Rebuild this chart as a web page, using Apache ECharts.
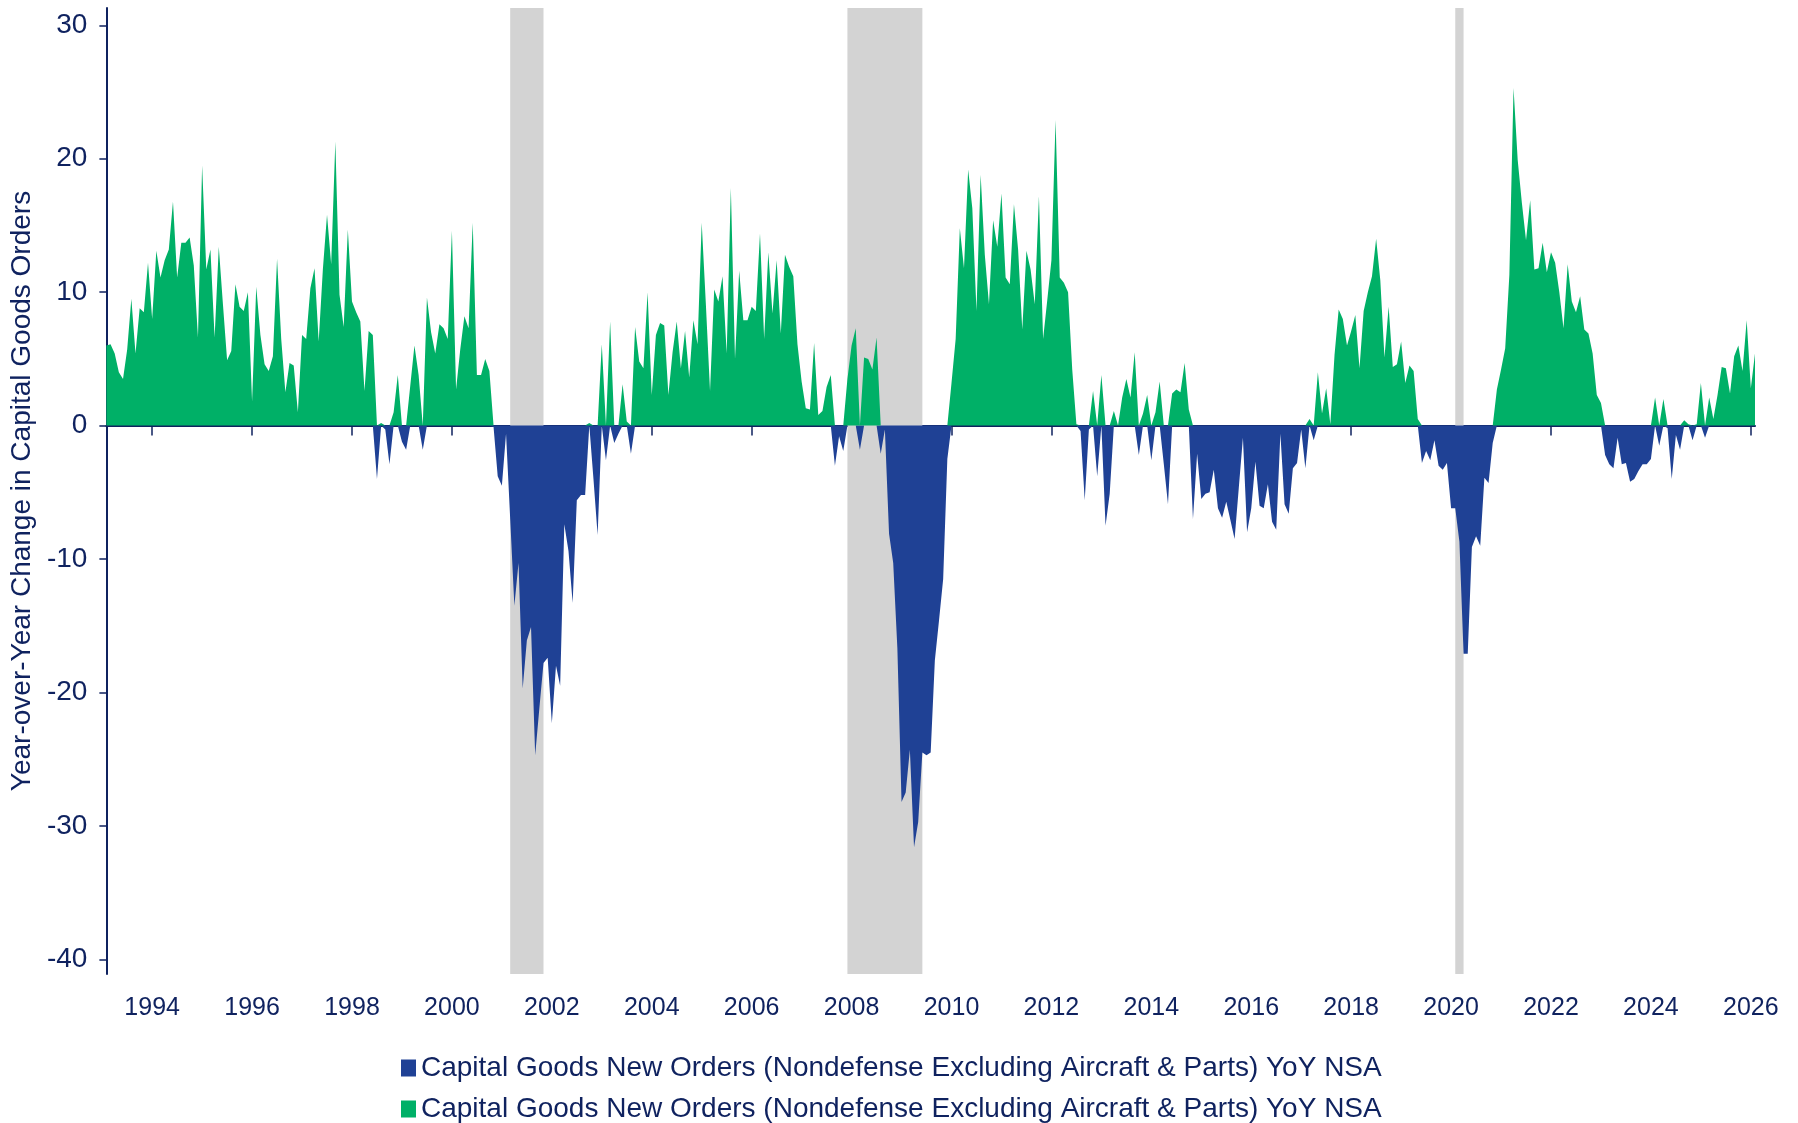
<!DOCTYPE html>
<html>
<head>
<meta charset="utf-8">
<script src="https://cdn.jsdelivr.net/npm/echarts@6/dist/echarts.min.js"></script>
<style>
  html, body { margin: 0; padding: 0; background: #fff; }
  #chart { width: 1798px; height: 1123px; }
</style>
</head>
<body>
<div id="chart"></div>
<script>
// first observation is Feb 1993, one value per month
const startYear = 1993
const startMonth = 2

// YoY % change, one row per calendar year
const yoyValues = [
  /* 1993 */ 6.0, 6.1, 5.4, 4.0, 3.5, 5.7, 9.5, 5.4, 8.8, 8.5, 12.2,
  /* 1994 */ 8.0, 13.1, 11.1, 12.4, 13.2, 16.8, 11.1, 13.7, 13.7, 14.1, 12.0, 6.6,
  /* 1995 */ 19.5, 11.7, 13.2, 6.6, 13.4, 9.1, 4.9, 5.6, 10.6, 8.9, 8.6, 10.0,
  /* 1996 */ 1.8, 10.4, 6.8, 4.6, 4.1, 5.2, 12.5, 6.5, 2.5, 4.7, 4.5, 1.0,
  /* 1997 */ 6.8, 6.5, 10.3, 11.8, 6.3, 11.7, 15.8, 12.1, 21.3, 9.8, 7.4, 14.7,
  /* 1998 */ 9.3, 8.5, 7.8, 2.6, 7.1, 6.8, -4.0, 0.2, -0.3, -2.9, 1.0, 3.8,
  /* 1999 */ -1.2, -1.8, 3.0, 6.0, 3.8, -1.8, 9.6, 7.0, 5.4, 7.6, 7.3, 6.5,
  /* 2000 */ 14.6, 2.7, 5.7, 8.2, 7.3, 15.2, 3.8, 3.8, 5.0, 4.1, -0.1, -3.8,
  /* 2001 */ -4.5, -0.6, -7.0, -13.5, -10.3, -19.7, -16.1, -15.1, -24.7, -21.2, -17.8, -17.4,
  /* 2002 */ -22.3, -18.0, -19.5, -7.4, -9.4, -13.3, -5.6, -5.2, -5.2, 0.2, -4.0, -8.2,
  /* 2003 */ 6.1, -2.6, 7.8, -1.3, -0.6, 3.1, 0.3, -2.1, 7.4, 4.8, 4.3, 10.0,
  /* 2004 */ 2.3, 6.8, 7.7, 7.5, 2.3, 5.5, 7.8, 4.3, 7.1, 3.6, 7.9, 6.1,
  /* 2005 */ 15.2, 9.1, 2.6, 10.2, 9.3, 11.2, 5.4, 17.8, 5.0, 11.6, 7.9, 7.9,
  /* 2006 */ 8.9, 8.6, 14.4, 6.5, 13.0, 8.4, 12.4, 6.9, 12.8, 11.9, 11.2, 6.1,
  /* 2007 */ 3.3, 1.3, 1.2, 6.2, 0.8, 1.1, 2.9, 3.8, -3.0, -0.8, -1.9, 3.5,
  /* 2008 */ 6.0, 7.3, -1.8, 5.1, 5.0, 4.2, 6.6, -2.1, -0.3, -8.1, -10.3, -16.7,
  /* 2009 */ -28.2, -27.5, -24.3, -31.6, -29.7, -24.5, -24.7, -24.5, -17.6, -14.6, -11.5, -2.5,
  /* 2010 */ 3.2, 6.5, 14.8, 11.8, 19.2, 16.3, 8.6, 18.8, 12.8, 9.1, 15.4, 13.4,
  /* 2011 */ 17.4, 11.1, 10.6, 16.6, 13.2, 7.2, 13.1, 11.7, 9.1, 17.2, 6.5, 9.4,
  /* 2012 */ 12.4, 22.9, 11.1, 10.7, 10.0, 4.2, 0.1, -0.4, -5.6, -0.3, 2.6, -3.8,
  /* 2013 */ 3.8, -7.5, -5.1, 1.1, 0.0, 2.1, 3.5, 2.1, 5.5, -2.2, 0.9, 2.3,
  /* 2014 */ -2.6, 1.0, 3.3, -2.9, -5.9, 2.4, 2.7, 2.5, 4.7, 1.2, -7.0, -2.1,
  /* 2015 */ -5.5, -5.1, -5.0, -3.3, -6.2, -6.9, -5.7, -7.1, -8.5, -4.7, -0.9, -8.0,
  /* 2016 */ -6.2, -2.7, -6.0, -6.2, -4.4, -7.2, -7.8, -0.6, -5.9, -6.6, -3.2, -2.8,
  /* 2017 */ -0.3, -3.2, 0.5, -1.1, 4.0, 0.9, 2.8, 0.1, 5.3, 8.7, 8.0, 6.0,
  /* 2018 */ 7.1, 8.3, 4.3, 8.6, 10.0, 11.2, 14.0, 10.9, 5.1, 8.9, 4.4, 4.6,
  /* 2019 */ 6.3, 3.2, 4.5, 4.1, 0.5, -2.8, -1.9, -2.6, -1.1, -3.0, -3.3, -2.8,
  /* 2020 */ -6.2, -6.2, -8.7, -17.1, -17.1, -9.1, -8.3, -9.0, -3.9, -4.3, -1.3, 2.7,
  /* 2021 */ 4.2, 5.8, 11.3, 25.3, 19.9, 16.7, 13.9, 16.9, 11.7, 11.8, 13.7, 11.5,
  /* 2022 */ 13.0, 12.2, 10.0, 7.3, 12.1, 9.3, 8.5, 9.7, 7.2, 6.9, 5.4, 2.3,
  /* 2023 */ 1.7, -2.2, -2.9, -3.2, -0.9, -2.9, -2.8, -4.2, -4.0, -3.4, -2.9, -2.9,
  /* 2024 */ -2.5, 2.1, -1.5, 2.0, -0.2, -4.0, -0.7, -1.8, 0.4, 0.1, -1.1, 0.1,
  /* 2025 */ 3.2, -0.9, 2.1, 0.5, 2.3, 4.4, 4.3, 2.4, 5.2, 6.0, 4.1, 7.9,
  /* 2026 */ 2.8, 5.4
]

// NBER recessions (start month, end month)
const recessions = [
  ['2001-03', '2001-11'],
  ['2007-12', '2009-06'],
  ['2020-02', '2020-04']
]

const legendLabel = 'Capital Goods New Orders (Nondefense Excluding Aircraft & Parts) YoY NSA'
const yAxisTitle = 'Year-over-Year Change in Capital Goods Orders'

const navy = '#0f225f'
const blue = '#1f4195'
const green = '#00b067'

// month categories "YYYY-MM"
const months = yoyValues.map((_, i) => {
  const m = startMonth - 1 + i
  const y = startYear + Math.floor(m / 12)
  return y + '-' + String((m % 12) + 1).padStart(2, '0')
})

// even-year Januaries carry the ticks and labels
const isYearTick = (idx, val) => val.endsWith('-01') && Number(val.slice(0, 4)) % 2 === 0

// split at zero so each sign gets its own colour
const negData = yoyValues.map(v => Math.min(v, 0))
const posData = yoyValues.map(v => Math.max(v, 0))

// one legend per row, both rows carry the same text
const legendRow = (name, top) => ({
  data: [name],
  left: 401,
  top: top,
  padding: 0,
  itemWidth: 15,
  itemHeight: 17,
  icon: 'rect',
  formatter: () => legendLabel,
  textStyle: { color: navy, fontSize: 28 }
})

const chart = echarts.init(document.getElementById('chart'))

chart.setOption({
  animation: false,
  backgroundColor: '#fff',
  textStyle: { fontFamily: 'Liberation Sans, Arial, sans-serif' },
  grid: { left: 104, right: 43, top: 8, bottom: 149, containLabel: false },
  legend: [legendRow('neg', 1054), legendRow('pos', 1095)],
  xAxis: {
    type: 'category',
    data: months,
    boundaryGap: false,
    axisLine: { lineStyle: { color: navy, width: 2 } },
    axisTick: { interval: isYearTick, length: 10, lineStyle: { color: navy, width: 1.5 } },
    axisLabel: {
      interval: isYearTick,
      formatter: v => v.slice(0, 4),
      color: navy,
      fontSize: 25,
      margin: 22
    },
    splitLine: { show: false }
  },
  yAxis: {
    type: 'value',
    min: -41.1,
    max: 31.3,
    splitNumber: 7,
    name: yAxisTitle,
    nameLocation: 'middle',
    nameGap: 68,
    nameTextStyle: { color: navy, fontSize: 28 },
    axisLine: { show: true, lineStyle: { color: navy, width: 2 } },
    axisTick: { show: true, length: 7, lineStyle: { color: navy, width: 1.5 } },
    axisLabel: { color: navy, fontSize: 28, margin: 19, showMinLabel: false, showMaxLabel: false },
    splitLine: { show: false }
  },
  series: [
    {
      name: 'neg',
      type: 'line',
      data: negData,
      symbol: 'none',
      color: blue,
      lineStyle: { width: 0 },
      areaStyle: { color: blue, opacity: 1 },
      markArea: {
        silent: true,
        itemStyle: { color: '#d3d3d3' },
        data: recessions.map(r => [{ xAxis: r[0] }, { xAxis: r[1] }])
      }
    },
    {
      name: 'pos',
      type: 'line',
      data: posData,
      symbol: 'none',
      color: green,
      lineStyle: { width: 0 },
      areaStyle: { color: green, opacity: 1 }
    }
  ]
})
</script>
</body>
</html>
